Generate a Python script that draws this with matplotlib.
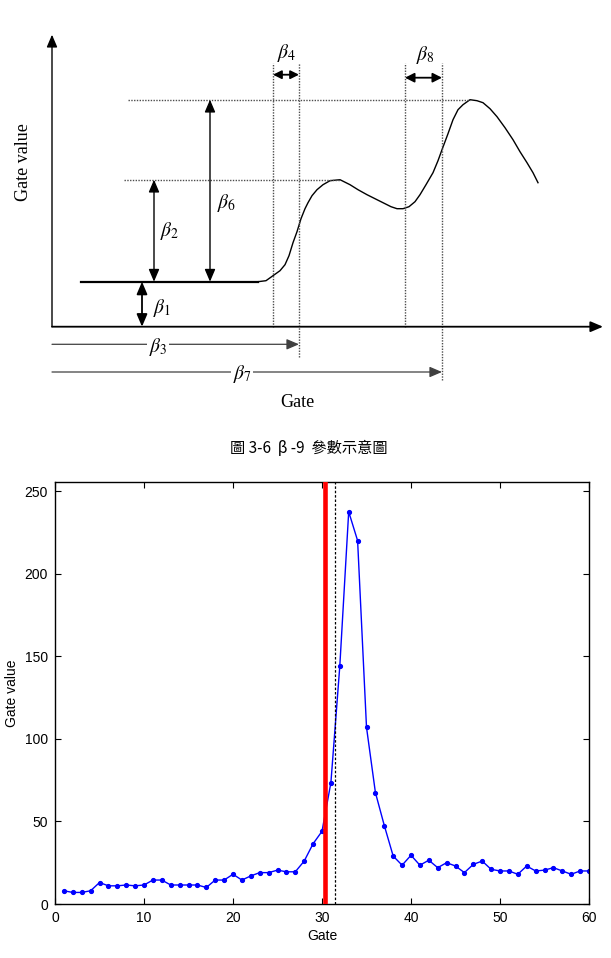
import matplotlib.pyplot as plt
import numpy as np

plt.rcParams['mathtext.fontset'] = 'stix'

# ---- schematic (top): gate vs gate value, drawing units ----
curve_x = [29, 206, 214, 221, 228, 233, 237, 241, 245, 249, 253, 256, 260,
           265, 271, 278, 288, 298, 306, 315, 323, 331, 339, 345, 351, 357,
           363, 368, 374, 381, 386, 390, 396, 401, 406, 411, 418, 425, 431,
           438, 445, 453, 461, 468, 475, 481, 486]
curve_y = [45, 45, 46, 51, 56, 62, 71, 84, 95, 108, 118, 124, 131,
           137, 142, 146, 147, 142, 137, 132, 128, 124, 120, 118, 118, 120,
           125, 132, 142, 154, 166, 177, 193, 207, 217, 222, 227, 226, 224,
           218, 210, 199, 187, 175, 164, 154, 144]
base_level = 45
peak1 = (288, 147)
peak2 = (418, 227)
beta4_span = (221, 247)
beta8_span = (353, 390)

# ---- measured gate values (bottom) ----
gates = np.arange(1, 61)
gate_values = [8, 7, 7, 8, 13, 11, 11, 11.5, 11, 11.5,
               14.5, 14.5, 11.5, 11.5, 11.5, 11.5, 10, 14.5, 14.5, 18,
               14.5, 17, 19, 19, 20.5, 19.5, 19.5, 26, 36.5, 44,
               73.5, 144, 237.5, 220, 107, 67.5, 47.5, 29, 23.5, 29.5,
               23.5, 26.5, 22, 25, 23, 19, 24, 26, 21, 20,
               20, 18, 23, 20, 20.5, 22, 20, 18, 20, 20]
red_gate = 30.35
dash_gate = 31.5

fig = plt.figure(figsize=(6.11, 9.58), dpi=100)

# ---------------- top schematic ----------------
ax = fig.add_axes([0, 1 - 430 / 958, 1, 430 / 958])
ax.set_xlim(-52, 559)
ax.set_ylim(-103.3, 326.7)
ax.axis('off')


def arrow(p0, p1, style, lw=1.2, color='black', hl=0.75, hw=0.32):
    ax.annotate('', xy=p1, xytext=p0,
                arrowprops=dict(arrowstyle=f'{style},head_length={hl},head_width={hw}',
                                lw=lw, color=color, shrinkA=0, shrinkB=0,
                                mutation_scale=10))


# axes
arrow((0, 0), (0, 292), '-|>', lw=1.0)
arrow((0, 0), (551, 0), '-|>', lw=1.3)

# curve
ax.plot(curve_x, curve_y, color='black', lw=1.0)
ax.plot(curve_x[:2], curve_y[:2], color='black', lw=1.6)

# dotted guides
dot = dict(color='0.3', lw=1.0, ls=(0, (1, 1)))
ax.plot([72, peak1[0]], [peak1[1], peak1[1]], **dot)
ax.plot([76, peak2[0]], [peak2[1], peak2[1]], **dot)
ax.plot([beta4_span[0]] * 2, [0, 264], **dot)
ax.plot([beta4_span[1]] * 2, [-30, 264], **dot)
ax.plot([beta8_span[0]] * 2, [0, 264], **dot)
ax.plot([beta8_span[1]] * 2, [-53, 264], **dot)

# parameter arrows
arrow((beta4_span[0], 252), (beta4_span[1], 252), '<|-|>', lw=1.3, hl=0.5, hw=0.25)
arrow((beta8_span[0], 249), (beta8_span[1], 249), '<|-|>', lw=1.3, hl=0.55, hw=0.28)
arrow((90, 0), (90, base_level), '<|-|>', lw=1.3)
arrow((102, base_level), (102, peak1[1]), '<|-|>', lw=1.0)
arrow((158, base_level), (158, peak2[1]), '<|-|>', lw=1.0)
arrow((0, -17.6), (beta4_span[1], -17.6), '-|>', lw=0.9, color='0.25')
arrow((0, -45.3), (beta8_span[1], -45.3), '-|>', lw=0.9, color='0.25')

lab = dict(fontsize=14, ha='center', va='center')
ax.text(235, 274, r'$\beta_4$', **lab)
ax.text(373, 272, r'$\beta_8$', **lab)
ax.text(118, 96, r'$\beta_2$', **lab)
ax.text(175, 124, r'$\beta_6$', **lab)
ax.text(110, 19, r'$\beta_1$', **lab)
ax.text(106, -20, r'$\beta_3$', bbox=dict(fc='white', ec='none', pad=1), **lab)
ax.text(190, -47, r'$\beta_7$', bbox=dict(fc='white', ec='none', pad=1), **lab)
ax.text(-29, 165, 'Gate value', family='Liberation Serif', fontsize=13,
        rotation=90, ha='center', va='center')
ax.text(245, -76, 'Gate', family='Liberation Serif', fontsize=13,
        ha='center', va='center')

fig.text(0.505, 1 - 448 / 958, '圖 3-6  β -9  參數示意圖', fontsize=11,
         family=['Noto Sans CJK TC', 'DejaVu Sans'], ha='center', va='center')

# ---------------- bottom plot ----------------
ax2 = fig.add_axes([55 / 611, 1 - 904 / 958, 534 / 611, 422 / 958])
ax2.plot(gates, gate_values, '.-', color='blue', lw=1.0, ms=5.5)
ax2.axvline(red_gate, color='red', lw=3.3, zorder=4)
ax2.axvline(dash_gate, color='black', lw=0.9, ls=(0, (2, 1.5)), zorder=3)
ax2.set_xlim(0, 60)
ax2.set_ylim(0, 255.5)
ax2.set_xticks([0, 10, 20, 30, 40, 50, 60])
ax2.set_yticks([0, 50, 100, 150, 200, 250])
ax2.tick_params(direction='in', top=True, right=True, length=4, width=0.8,
                labelsize=10, pad=5)
for lbl in ax2.get_xticklabels() + ax2.get_yticklabels():
    lbl.set_family('Liberation Sans')
for s in ax2.spines.values():
    s.set_linewidth(1.0)
ax2.set_xlabel('Gate', family='Liberation Sans', fontsize=10, labelpad=3)
ax2.set_ylabel('Gate value', family='Liberation Sans', fontsize=10, labelpad=4)

fig.savefig('out.png', dpi=100)
